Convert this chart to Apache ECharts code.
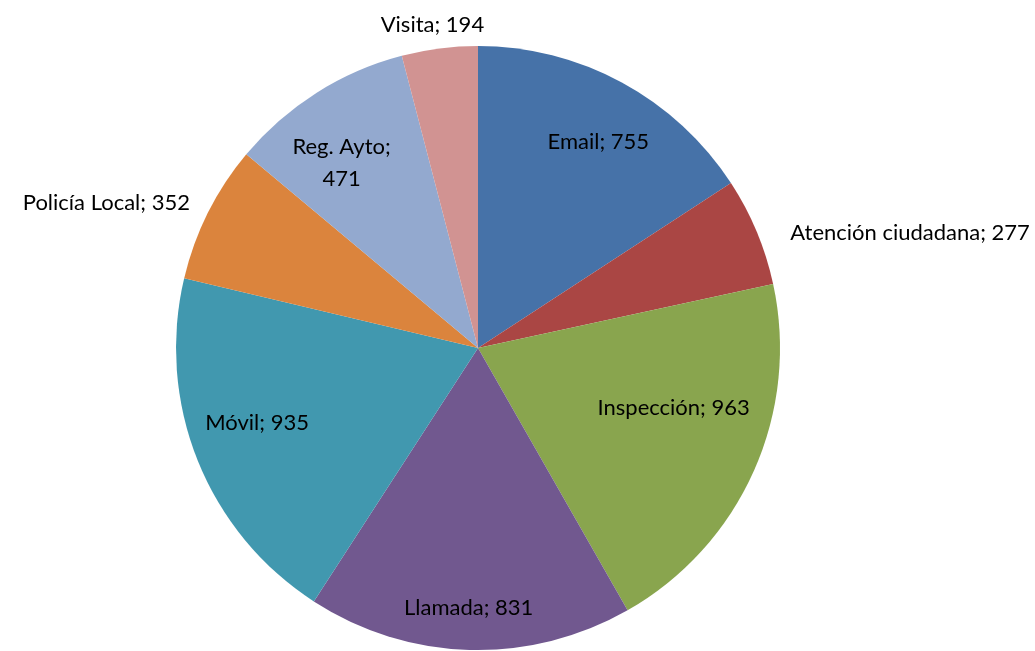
<!DOCTYPE html>
<html><head><meta charset="utf-8">
<script src="https://cdn.jsdelivr.net/npm/echarts@6/dist/echarts.min.js"></script>
<style>html,body{margin:0;padding:0;background:#fff}#c{width:1035px;height:651px}</style>
</head><body><div id="c"></div>
<script>
const categories = ['Email','Atención ciudadana','Inspección','Llamada','Móvil','Policía Local','Reg. Ayto','Visita'];
const values = [755, 277, 963, 831, 935, 352, 471, 194];
const colors = ['#4672A8','#AA4644','#89A54E','#71588F','#4198AF','#DB843D','#93A9CF','#D19392'];
const labelOffsets = [[47,-71],[290,-56],[55,-3],[-5,106],[-78,18],[-234,-76],[-54,-55],[-26,-170]];

const chart = echarts.init(document.getElementById('c'));
chart.setOption({
  animation: false,
  backgroundColor: '#fff',
  series: [{
    type: 'pie',
    center: [478, 348],
    radius: [0, 302],
    startAngle: 90,
    clockwise: true,
    avoidLabelOverlap: false,
    labelLine: {show: false},
    data: categories.map((c, i) => ({
      name: c,
      value: values[i],
      itemStyle: {color: colors[i]},
      label: {offset: labelOffsets[i]}
    })),
    label: {
      show: true,
      position: 'inside',
      fontFamily: 'Lato',
      fontSize: 22,
      lineHeight: 32,
      color: '#000',
      formatter: p => p.name === 'Reg. Ayto' ? p.name + ';\n' + p.value : p.name + '; ' + p.value
    },
    emphasis: {disabled: true}
  }]
});
</script></body></html>
